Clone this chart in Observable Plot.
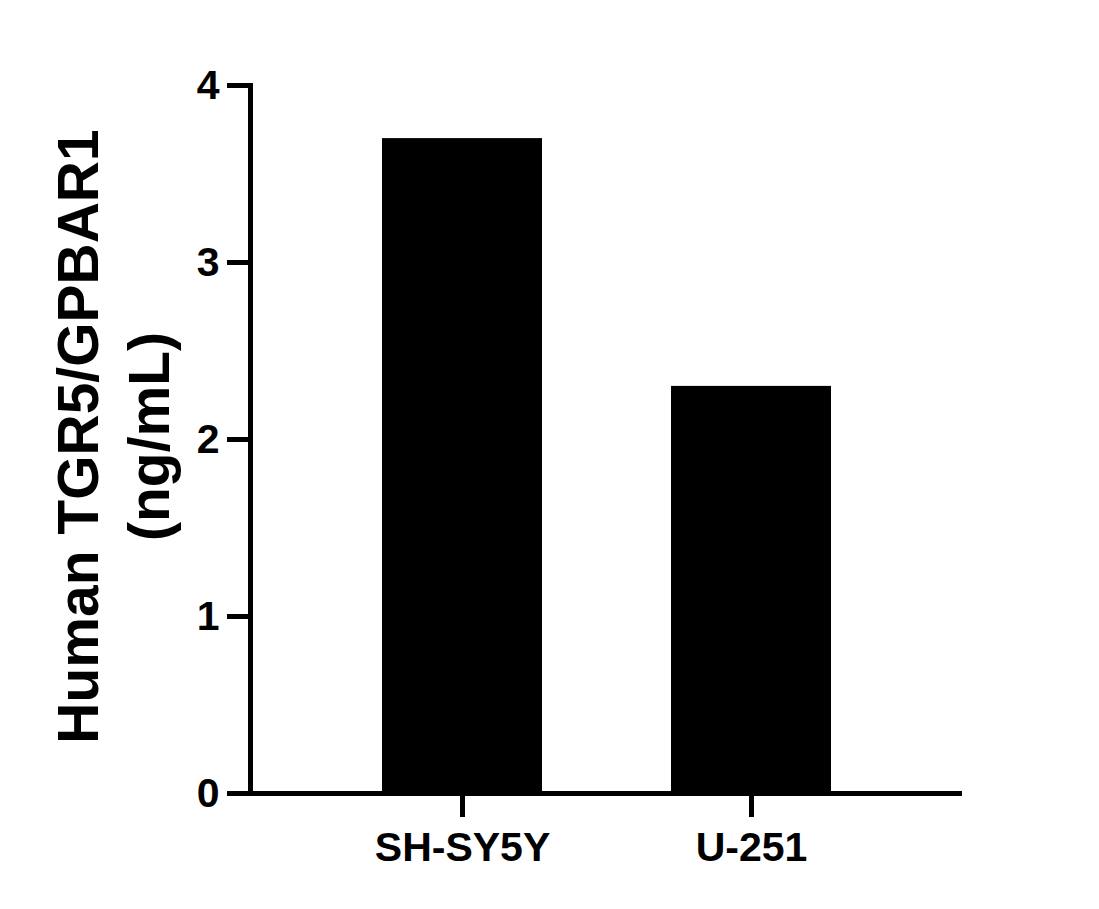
<!DOCTYPE html>
<html><head><meta charset="utf-8">
<script src="https://cdn.jsdelivr.net/npm/d3@7"></script>
<script src="https://cdn.jsdelivr.net/npm/@observablehq/plot@0.6"></script>
<style>body{margin:0;background:#fff}</style>
</head><body><div id="chart"></div>
<script>
const categories = ["SH-SY5Y", "U-251"];
const values = [3.7, 2.3];
const yTicks = [0, 1, 2, 3, 4];
const yTitle = ["Human TGR5/GPBAR1", "(ng/mL)"];

const data = categories.map((c, i) => ({cell: c, value: values[i]}));
const font = '"Liberation Sans", Arial, Helvetica, sans-serif';

const plot = Plot.plot({
  width: 1099, height: 909,
  marginLeft: 250, marginRight: 137, marginTop: 85, marginBottom: 116,
  style: {fontFamily: font, fontWeight: "bold", color: "#000", background: "#fff", overflow: "visible"},
  x: {domain: categories, paddingInner: 0.4464, paddingOuter: 0.455, label: null},
  y: {domain: [0, 4], label: null},
  marks: [
    Plot.barY(data, {x: "cell", y: "value", fill: "#000"}),
    Plot.axisY({ticks: yTicks, tickSize: 23, tickPadding: 8, strokeWidth: 5, tickFormat: d3.format("d"), label: null, fontSize: 41}),
    Plot.axisX({tickSize: 24, tickPadding: 14, strokeWidth: 5, label: null, fontSize: 41}),
    Plot.ruleY([0], {strokeWidth: 5}),
    Plot.frame({anchor: "left", strokeWidth: 5}),
    Plot.text([yTitle.join("\n")], {text: d => d, frameAnchor: "left", textAnchor: "middle", rotate: -90, dx: -140, dy: -3, fontSize: 57, lineHeight: 1.25, fontWeight: "bold", fill: "#000"})
  ]
});
document.getElementById("chart").appendChild(plot);
</script>
</body></html>
